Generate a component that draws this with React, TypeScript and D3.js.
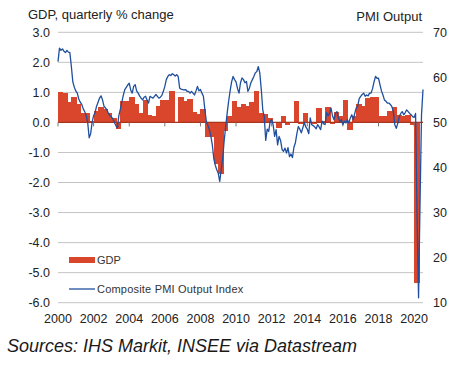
import React from 'react';
import * as d3 from 'd3';

const W = 460;
const H = 366;

// France GDP, quarterly % change, 2000Q1 .. 2020Q1
const gdpByYear = [
  [1.0, 0.97, 0.67, 0.83],
  [0.6, 0.33, 0.3, 0.05],
  [0.37, 0.5, 0.45, 0.33],
  [0.14, -0.22, 0.72, 0.72],
  [0.83, 0.6, 0.33, 0.75],
  [0.25, 0.22, 0.55, 0.75],
  [0.75, 1.05, 0.0, 0.84],
  [0.72, 0.79, 0.35, 0.28],
  [0.46, -0.47, -0.47, -1.4],
  [-1.7, -0.3, 0.2, 0.7],
  [0.5, 0.6, 0.55, 0.68],
  [1.05, 0.3, 0.28, 0.15],
  [0.0, -0.2, 0.2, -0.08],
  [0.02, 0.7, -0.05, 0.3],
  [0.0, -0.05, 0.48, 0.05],
  [0.53, -0.05, 0.35, 0.2],
  [0.75, -0.24, 0.2, 0.6],
  [0.55, 0.8, 0.83, 0.83],
  [0.2, 0.2, 0.37, 0.53],
  [0.25, 0.2, 0.25, -0.08],
  [-5.35],
];
const gdp = gdpByYear.flat();

// Composite PMI output index, monthly, Jan 2000 .. Jul 2020
const pmiByYear = [
  [63.5, 66.5, 66.0, 66.3, 65.8, 65.5, 66.0, 65.6, 65.5, 62.4, 59.0, 57.8],
  [57.0, 56.5, 55.2, 54.5, 54.0, 53.0, 52.4, 51.5, 50.0, 46.6, 47.5, 50.0],
  [51.5, 52.2, 53.6, 54.5, 55.4, 55.9, 55.0, 53.6, 53.2, 52.8, 52.0, 51.5],
  [51.2, 50.8, 50.0, 49.3, 48.8, 51.5, 52.9, 54.5, 56.0, 57.3, 57.8, 58.3],
  [58.7, 57.2, 56.5, 58.0, 58.4, 57.0, 56.5, 55.9, 55.4, 55.0, 55.6, 55.8],
  [55.0, 54.3, 55.8, 55.6, 55.4, 55.8, 56.2, 55.8, 55.4, 55.6, 56.0, 56.9],
  [58.0, 59.5, 60.2, 60.6, 60.4, 60.8, 60.6, 60.3, 60.6, 60.2, 57.6, 57.4],
  [57.3, 57.2, 57.3, 56.9, 56.9, 56.5, 56.9, 56.5, 56.1, 57.0, 58.0, 57.0],
  [57.3, 56.5, 55.8, 52.8, 50.2, 49.3, 48.4, 47.0, 45.0, 42.0, 40.5, 39.5],
  [38.7, 36.9, 39.5, 42.0, 46.0, 49.0, 52.0, 54.7, 57.0, 59.0, 60.2, 59.5],
  [59.0, 57.5, 56.5, 58.8, 59.9, 59.5, 58.8, 59.1, 56.9, 57.6, 58.8, 59.5],
  [60.2, 61.0, 61.3, 62.4, 61.0, 57.3, 52.8, 51.3, 46.0, 48.5, 48.0, 50.2],
  [50.6, 49.5, 46.9, 48.4, 45.0, 46.9, 46.0, 44.0, 43.6, 44.3, 43.2, 44.4],
  [42.4, 43.0, 42.2, 44.5, 45.5, 47.5, 49.1, 48.5, 47.7, 48.8, 50.0, 49.0],
  [48.5, 47.5, 51.0, 49.5, 49.3, 49.0, 48.6, 49.5, 49.0, 48.4, 50.3, 49.7],
  [49.5, 52.2, 51.5, 52.0, 53.2, 51.5, 50.6, 52.0, 52.4, 51.0, 50.2, 50.6],
  [49.5, 50.3, 49.9, 50.6, 49.9, 51.0, 51.7, 50.6, 52.0, 53.2, 53.6, 55.3],
  [55.8, 56.2, 56.5, 55.8, 56.1, 55.9, 56.5, 56.5, 57.5, 59.0, 60.2, 59.8],
  [59.8, 58.4, 57.0, 56.1, 55.0, 54.7, 54.3, 54.3, 54.0, 53.5, 52.4, 49.5],
  [48.7, 49.8, 51.3, 52.0, 52.4, 51.7, 52.2, 52.8, 52.4, 52.0, 51.7, 51.3],
  [51.1, 52.0, 28.9, 11.1, 32.1, 51.7, 57.3],
];
const pmi = pmiByYear.flat();

const leftTicks = [3, 2, 1, 0, -1, -2, -3, -4, -5, -6];
const rightTicks = [70, 60, 50, 40, 30, 20, 10];
const xTicks = [2000, 2002, 2004, 2006, 2008, 2010, 2012, 2014, 2016, 2018, 2020];

const RED = '#d9462b';
const BLUE = '#1f4f9e';
const FONT = '"Liberation Sans", Arial, sans-serif';

export default function App() {
  const x = d3.scaleLinear().domain([2000, 2020.5]).range([58, 423]);
  const yL = d3.scaleLinear().domain([-6, 3]).range([302.7, 32.3]);
  const yR = d3.scaleLinear().domain([10, 70]).range([302.7, 32.3]);

  const qw = x(2000.25) - x(2000);
  const line = d3
    .line<number>()
    .x((_, i) => x(2000 + i / 12))
    .y((d) => yR(d));

  return (
    <svg
      width={W}
      height={H}
      style={{ position: 'absolute', left: 0, top: 0, background: '#fff' }}
      fontFamily={FONT}
    >
      {/* grid */}
      {leftTicks.map((t) => (
        <line key={t} x1={x(2000)} x2={x(2020.5)} y1={yL(t)} y2={yL(t)} stroke="#c4c4c4" strokeWidth={1} />
      ))}

      {/* bars */}
      <g shapeRendering="crispEdges">
        {gdp.map((v, i) => (
          <rect
            key={i}
            x={x(2000 + i / 4)}
            y={yL(Math.max(0, v))}
            width={qw + 1}
            height={Math.abs(yL(v) - yL(0))}
            fill={RED}
          />
        ))}
      </g>

      {/* zero line and ticks */}
      <line x1={x(2000)} x2={x(2020.5)} y1={yL(0)} y2={yL(0)} stroke="#a8361f" strokeWidth={1.2} />
      {xTicks.map((t) => (
        <line key={t} x1={x(t)} x2={x(t)} y1={yL(0)} y2={yL(0) + 4} stroke="#777" strokeWidth={1} />
      ))}

      {/* PMI line */}
      <path d={line(pmi) || ''} fill="none" stroke={BLUE} strokeWidth={1.3} strokeLinejoin="round" />

      {/* left axis labels */}
      {leftTicks.map((t) => (
        <text key={t} x={50} y={yL(t)} dy="0.35em" textAnchor="end" fontSize={12.5} fill="#222">
          {t.toFixed(1)}
        </text>
      ))}
      {/* right axis labels */}
      {rightTicks.map((t) => (
        <text key={t} x={433} y={yR(t)} dy="0.35em" textAnchor="start" fontSize={12.5} fill="#222">
          {t}
        </text>
      ))}
      {/* x labels */}
      {xTicks.map((t) => (
        <text key={t} x={x(t)} y={323} textAnchor="middle" fontSize={12.5} fill="#222">
          {t}
        </text>
      ))}

      {/* titles */}
      <text x={28} y={19} fontSize={13} fill="#222">GDP, quarterly % change</text>
      <text x={422} y={20.5} fontSize={13} fill="#222" textAnchor="end">PMI Output</text>

      {/* legend */}
      <rect x={69} y={257} width={26} height={6} fill={RED} />
      <text x={97} y={260} dy="0.35em" fontSize={11} fill="#333">GDP</text>
      <line x1={69} x2={95} y1={289} y2={289} stroke={BLUE} strokeWidth={1.3} />
      <text x={97} y={289} dy="0.35em" fontSize={11} fill="#333" letterSpacing={0.2}>
        Composite PMI Output Index
      </text>

      {/* source */}
      <text x={7} y={352} fontSize={18} fontStyle="italic" fill="#1a1a1a">
        Sources: IHS Markit, INSEE via Datastream
      </text>
    </svg>
  );
}
